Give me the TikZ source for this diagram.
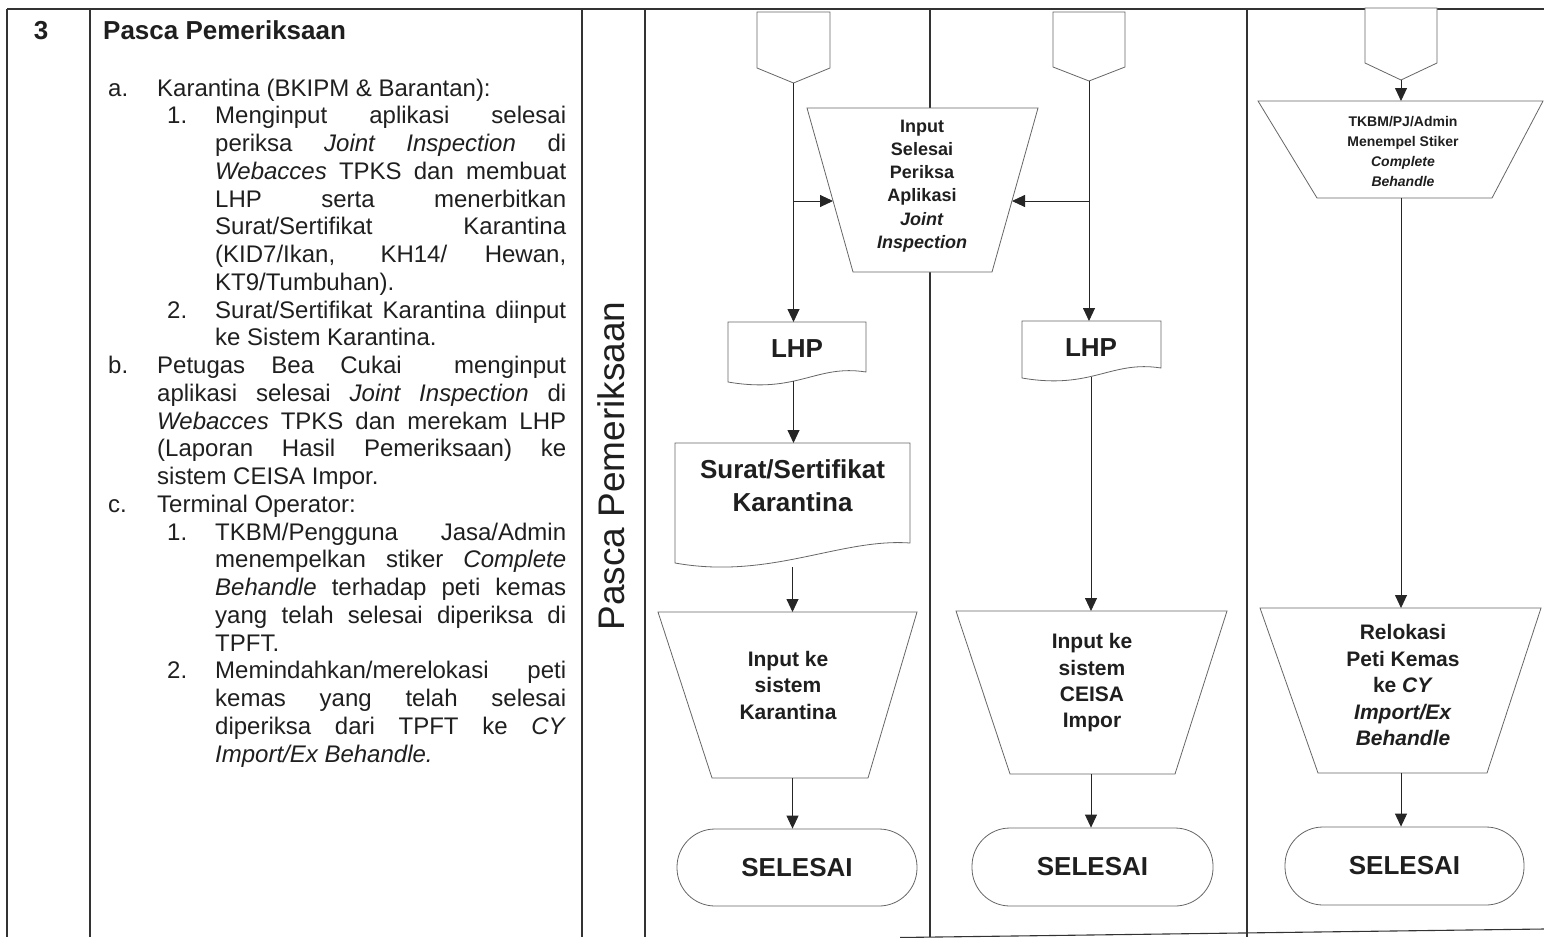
\documentclass[tikz,border=0pt]{standalone}
\usepackage{fontspec}
\setmainfont{Liberation Sans}
\usetikzlibrary{arrows.meta,calc}
\newcommand\fsz[2]{\fontsize{#1}{#2}\selectfont\bfseries}
\newcommand\Ln[5]{\noindent\makebox[#1pt][l]{\hspace*{#2pt}#3}\makebox[\dimexpr463pt-#1pt\relax][#4]{#5}\par}
\newcommand\AJ[2]{\Ln{54}{5}{#1}{s}{#2}}
\newcommand\AL[2]{\Ln{54}{5}{#1}{l}{#2}}
\newcommand\BJ[2]{\Ln{112}{64}{#1}{s}{#2}}
\newcommand\BL[2]{\Ln{112}{64}{#1}{l}{#2}}
\tikzset{
  tbl/.style={line width=1.1pt, draw=black!80},
  outl/.style={line width=0.8pt, draw=black!60, fill=white},
  frm/.style={inner sep=0pt, outer sep=0pt},
  arr/.style={line width=0.9pt, draw=black!85, -{Triangle[length=13pt,width=12pt]}},
  lbl/.style={align=center, inner sep=0pt, text=black!88},
  term/.style={outl, rounded corners=38pt, inner sep=0pt, text=black!88, font=\fsz{26}{30}}
}
\newcommand\trap[3]{\draw[outl] (#1.north west) -- (#1.north east) -- ($(#1.south east)+(-#3,0)$) -- ($(#1.south west)+(#2,0)$) -- cycle;}
\newcommand\pent[2]{\draw[outl] (#1.north west) -- (#1.north east) -- (#1.south east) -- ($(#1.south)+(0,#2)$) -- (#1.south west) -- cycle;}
\newcommand\docu[4]{\draw[outl] (#1.north west) -- (#1.north east) -- (#1.south east) .. controls ($(#1.south east)+(#2)$) and ($(#1.south west)+(#3)$) .. ($(#1.south west)+(0,#4)$) -- cycle;}
\begin{document}
\begin{tikzpicture}[x=1pt,y=-1pt]
\useasboundingbox (0,0) rectangle (1544,937);
% table
\draw[tbl] (7,9) -- (1544,9);
\foreach \x in {7,90,582,645,930,1247} \draw[tbl] (\x,9) -- (\x,937);
\draw[tbl] (900,937.5) -- (1544,929);
% left text
\node[anchor=base, inner sep=0pt, text=black!88, font=\fsz{26}{30}] (num) at (41,39) {3};
\node[anchor=base west, inner sep=0pt, text=black!88, font=\fsz{26}{30}] (head) at (103,39) {Pasca Pemeriksaan};
\node[anchor=base west, inner sep=0pt, text=black!88, font=\fontsize{24}{27.75}\selectfont] (body) at (103,96) {%
\begin{minipage}[t]{463pt}\lineskiplimit=-100pt
\AL{a.}{Karantina (BKIPM \& Barantan):}
\BJ{1.}{Menginput aplikasi selesai}
\BJ{}{periksa \textit{Joint Inspection} di}
\BJ{}{\textit{Webacces} TPKS dan membuat}
\BJ{}{LHP serta menerbitkan}
\BJ{}{Surat/Sertifikat Karantina}
\BJ{}{(KID7/Ikan, KH14/ Hewan,}
\BL{}{KT9/Tumbuhan).}
\BJ{2.}{Surat/Sertifikat Karantina diinput}
\BL{}{ke Sistem Karantina.}
\AJ{b.}{Petugas Bea Cukai\ \ menginput}
\AJ{}{aplikasi selesai \textit{Joint Inspection} di}
\AJ{}{\textit{Webacces} TPKS dan merekam LHP}
\AJ{}{(Laporan Hasil Pemeriksaan) ke}
\AL{}{sistem CEISA Impor.}
\AL{c.}{Terminal Operator:}
\BJ{1.}{TKBM/Pengguna Jasa/Admin}
\BJ{}{menempelkan stiker \textit{Complete}}
\BJ{}{\textit{Behandle} terhadap peti kemas}
\BJ{}{yang telah selesai diperiksa di}
\BL{}{TPFT.}
\BJ{2.}{Memindahkan/merelokasi peti}
\BJ{}{kemas yang telah selesai}
\BJ{}{diperiksa dari TPFT ke \textit{CY}}
\BL{}{\textit{Import/Ex Behandle.}}
\end{minipage}};
\node[rotate=90, inner sep=0pt, text=black!88, font=\fontsize{37}{40}\selectfont] (side) at (611,466) {Pasca Pemeriksaan};
% frames
\node[frm, minimum width=73pt, minimum height=56pt] (pent1) at (793.5,40) {};
\node[frm, minimum width=72pt, minimum height=55pt] (pent2) at (1089,39.5) {};
\node[frm, minimum width=72pt, minimum height=55pt] (pent3) at (1401,35.5) {};
\node[frm, minimum width=231pt, minimum height=164pt] (trap1) at (922.5,190) {};
\node[frm, minimum width=259pt, minimum height=166pt] (trap2) at (787.5,695) {};
\node[frm, minimum width=271pt, minimum height=163pt] (trap3) at (1091.5,692.5) {};
\node[frm, minimum width=285pt, minimum height=97pt] (trap4) at (1400.5,149.5) {};
\node[frm, minimum width=281pt, minimum height=165pt] (trap5) at (1400.5,690.5) {};
\node[frm, minimum width=138pt, minimum height=50pt] (doc1) at (797,347) {};
\node[frm, minimum width=235pt, minimum height=100pt] (doc2) at (792.5,493) {};
\node[frm, minimum width=139pt, minimum height=47pt] (doc3) at (1091.5,344.5) {};
% outlines
\pent{pent1}{15}
\pent{pent2}{14}
\pent{pent3}{17}
\trap{trap1}{46}{46}
\trap{trap2}{54}{49}
\trap{trap3}{54}{52}
\trap{trap4}{59}{51}
\trap{trap5}{58}{54}
\docu{doc1}{-50,-8}{70,22}{10}
\docu{doc2}{-70,-5}{95,37}{20}
\docu{doc3}{-50,-8}{70,22}{10}
\node[term, minimum width=240pt, minimum height=77pt] (end1) at (797,867.5) {SELESAI};
\node[term, minimum width=241pt, minimum height=78pt] (end2) at (1092.5,867) {SELESAI};
\node[term, minimum width=239pt, minimum height=78pt] (end3) at (1404.5,866) {SELESAI};
% labels
\node[lbl, font=\fsz{18}{23.3}] (l1) at (922,186) {Input\\Selesai\\Periksa\\Aplikasi\\\textit{Joint}\\\textit{Inspection}};
\node[lbl, font=\fsz{26}{30}] (l2) at (797,349) {LHP};
\node[lbl, font=\fsz{26}{33}] (l3) at (792.5,486) {Surat/Sertifikat\\Karantina};
\node[lbl, font=\fsz{21}{26.5}] (l4) at (788,685) {Input ke\\sistem\\Karantina};
\node[lbl, font=\fsz{26}{30}] (l5) at (1091,348) {LHP};
\node[lbl, font=\fsz{21}{26.3}] (l6) at (1092,683) {Input ke\\sistem\\CEISA\\Impor};
\node[lbl, font=\fsz{14}{20}] (l7) at (1403,151) {TKBM/PJ/Admin\\Menempel Stiker\\\textit{Complete}\\\textit{Behandle}};
\node[lbl, font=\fsz{21}{26.5}] (l8) at (1403,685) {Relokasi\\Peti Kemas\\ke \textit{CY}\\\textit{Import/Ex}\\\textit{Behandle}};
% connectors
\coordinate (tip1) at ($(pent1.south)+(0,15)$);
\coordinate (tip2) at ($(pent2.south)+(0,14)$);
\coordinate (tip3) at ($(pent3.south)+(0,17)$);
\coordinate (j1) at (833,201);
\coordinate (j2) at (1012,201);
\coordinate (d1o) at (793.5,381);
\coordinate (d2o) at (792.5,567);
\coordinate (d3o) at (1091,377);
\draw[arr] (tip1) -- (tip1 |- doc1.north);
\draw[arr] (tip1 |- j1) -- (j1);
\draw[arr] (d1o) -- (d1o |- doc2.north);
\draw[arr] (d2o) -- (d2o |- trap2.north);
\draw[arr] (d2o |- trap2.south) -- (d2o |- end1.north);
\draw[arr] (tip2) -- (tip2 |- doc3.north);
\draw[arr] (tip2 |- j2) -- (j2);
\draw[arr] (d3o) -- (d3o |- trap3.north);
\draw[arr] (d3o |- trap3.south) -- (d3o |- end2.north);
\draw[arr] (tip3) -- (tip3 |- trap4.north);
\draw[arr] (tip3 |- trap4.south) -- (tip3 |- trap5.north);
\draw[arr] (tip3 |- trap5.south) -- (tip3 |- end3.north);
\end{tikzpicture}
\end{document}
